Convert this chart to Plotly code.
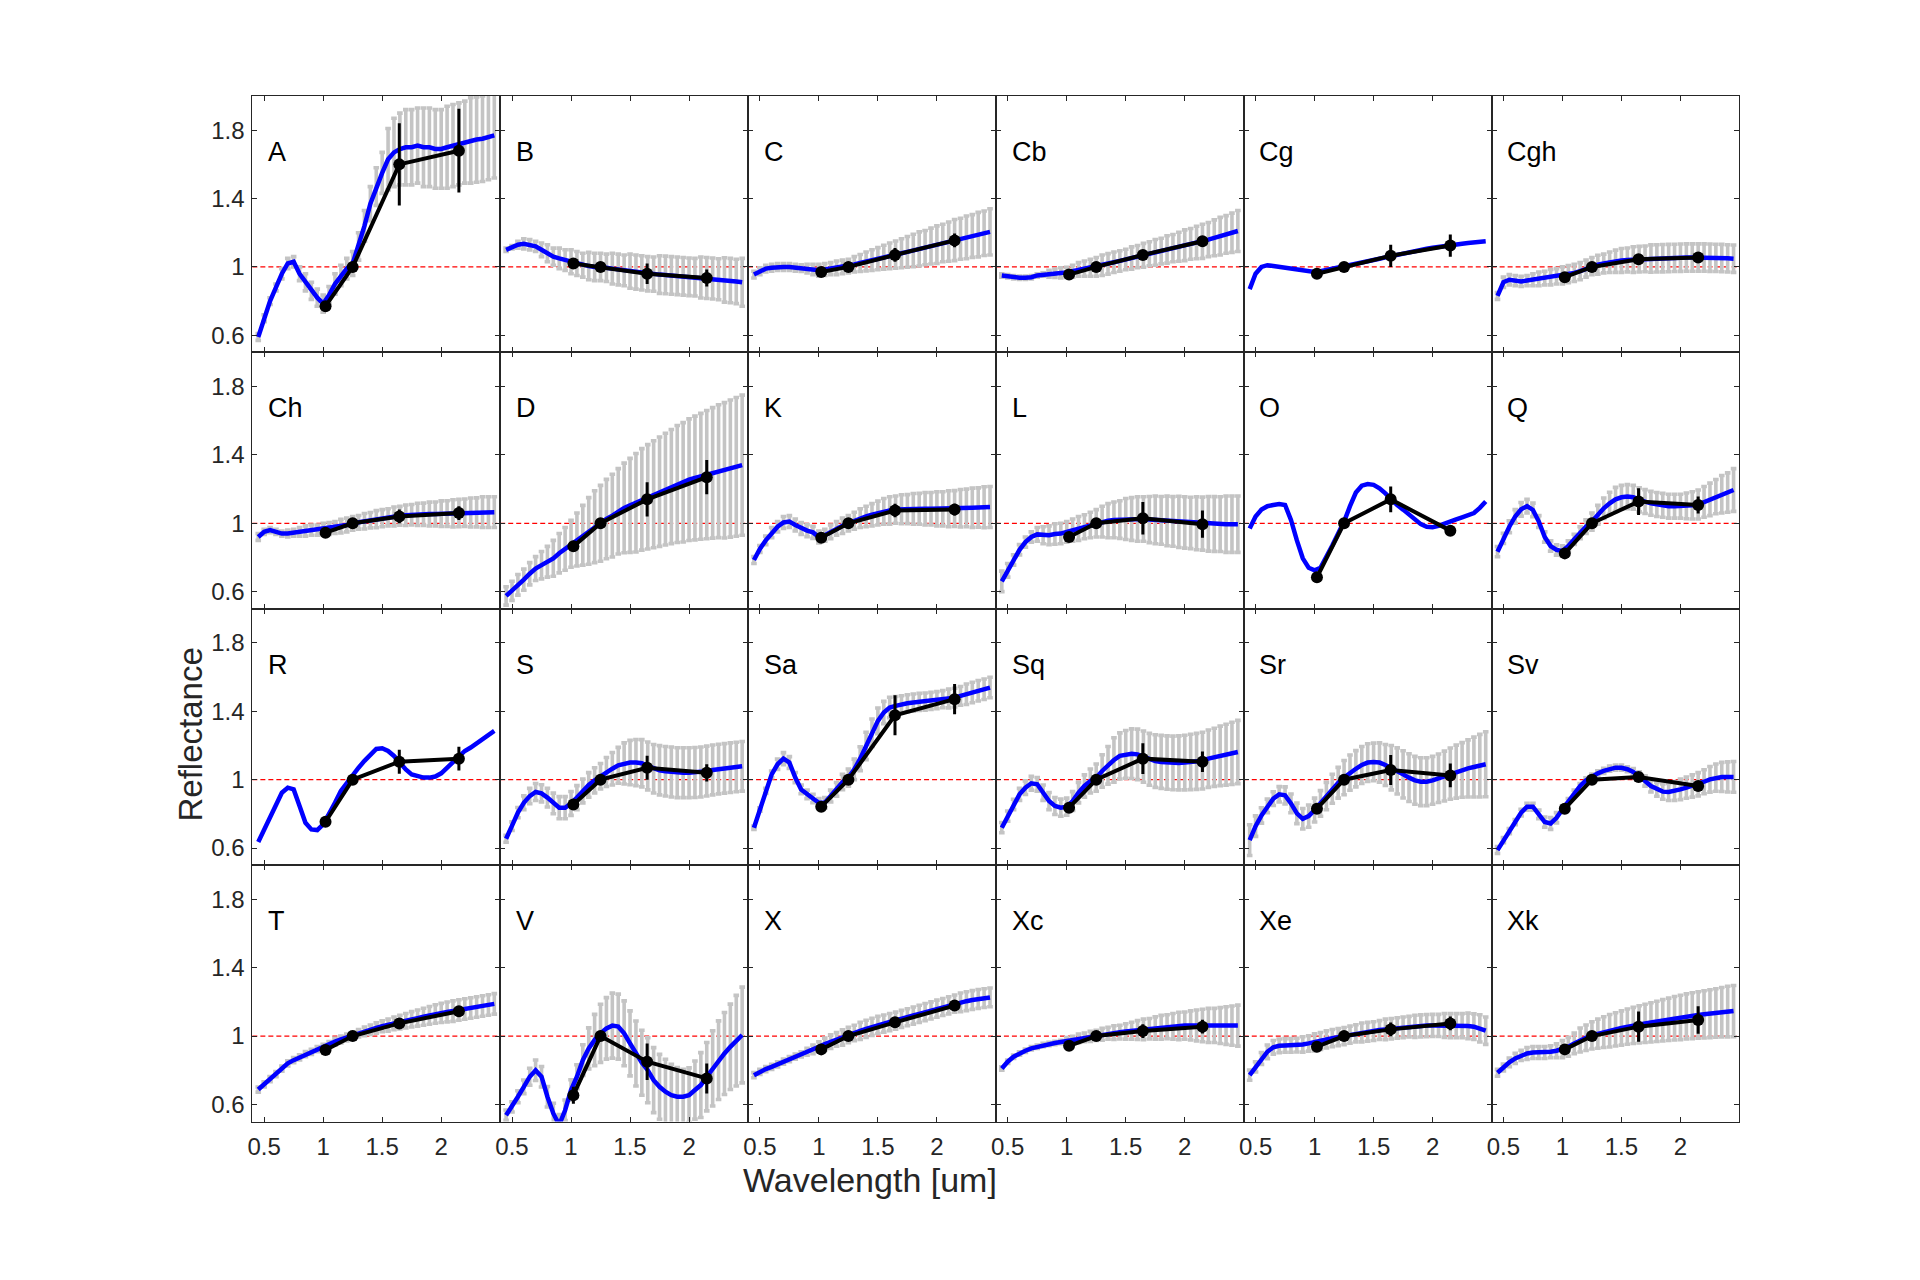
import plotly.graph_objects as go

# ---------------- data ----------------
WAVE = [0.45, 0.50, 0.55, 0.60, 0.65, 0.70, 0.75, 0.80, 0.85, 0.90, 0.95, 1.00, 1.05, 1.10,
        1.15, 1.20, 1.25, 1.30, 1.35, 1.40, 1.45, 1.50, 1.55, 1.60, 1.65, 1.70, 1.75, 1.80,
        1.85, 1.90, 1.95, 2.00, 2.05, 2.10, 2.15, 2.20, 2.25, 2.30, 2.35, 2.40, 2.45]
PHOT_WAVE = [1.02, 1.25, 1.645, 2.15]

CLASSES = ["A", "B", "C", "Cb", "Cg", "Cgh",
           "Ch", "D", "K", "L", "O", "Q",
           "R", "S", "Sa", "Sq", "Sr", "Sv",
           "T", "V", "X", "Xc", "Xe", "Xk"]

A_MEAN = [0.59, 0.70, 0.80, 0.88, 0.96, 1.02, 1.03, 0.96, 0.91, 0.86, 0.82, 0.785, 0.835, 0.90, 0.95, 0.99, 1.02, 1.12, 1.24, 1.37, 1.47, 1.55, 1.63, 1.67, 1.69, 1.70, 1.70, 1.71, 1.70, 1.70, 1.69, 1.69, 1.70, 1.71, 1.72, 1.73, 1.74, 1.745, 1.75, 1.76, 1.77]
A_STD = [0.02, 0.02, 0.02, 0.02, 0.03, 0.03, 0.03, 0.04, 0.05, 0.05, 0.05, 0.05, 0.05, 0.06, 0.06, 0.06, 0.07, 0.08, 0.09, 0.10, 0.11, 0.12, 0.18, 0.20, 0.21, 0.22, 0.22, 0.22, 0.23, 0.23, 0.23, 0.23, 0.24, 0.24, 0.24, 0.24, 0.25, 0.25, 0.25, 0.25, 0.25]
A_PHOT = [0.77, 1.0, 1.60, 1.68]
A_PHOT_ERR = [0.02, 0.0, 0.24, 0.245]

B_MEAN = [1.10, 1.115, 1.13, 1.135, 1.13, 1.12, 1.10, 1.08, 1.06, 1.05, 1.04, 1.03, 1.02, 1.01, 1.005, 1.0, 1.0, 0.995, 0.99, 0.985, 0.98, 0.975, 0.97, 0.965, 0.96, 0.958, 0.955, 0.953, 0.95, 0.948, 0.945, 0.942, 0.94, 0.938, 0.935, 0.932, 0.928, 0.924, 0.92, 0.915, 0.91]
B_STD = [0.01, 0.01, 0.02, 0.03, 0.03, 0.03, 0.04, 0.05, 0.05, 0.06, 0.06, 0.07, 0.07, 0.07, 0.08, 0.08, 0.08, 0.08, 0.09, 0.09, 0.09, 0.10, 0.10, 0.10, 0.10, 0.10, 0.11, 0.11, 0.11, 0.11, 0.11, 0.11, 0.11, 0.12, 0.12, 0.12, 0.12, 0.13, 0.13, 0.13, 0.14]
B_PHOT = [1.02, 1.0, 0.96, 0.935]
B_PHOT_ERR = [0.02, 0.0, 0.06, 0.05]

C_MEAN = [0.955, 0.975, 0.99, 0.995, 1.0, 1.0, 1.0, 0.995, 0.993, 0.99, 0.985, 0.98, 0.985, 0.99, 0.995, 1.0, 1.005, 1.015, 1.023, 1.032, 1.04, 1.048, 1.057, 1.065, 1.072, 1.08, 1.088, 1.096, 1.105, 1.113, 1.122, 1.13, 1.14, 1.148, 1.157, 1.165, 1.173, 1.181, 1.189, 1.197, 1.205]
C_STD = [0.02, 0.02, 0.02, 0.02, 0.02, 0.02, 0.02, 0.02, 0.02, 0.025, 0.03, 0.035, 0.035, 0.035, 0.04, 0.04, 0.04, 0.045, 0.05, 0.055, 0.06, 0.065, 0.07, 0.075, 0.08, 0.085, 0.09, 0.095, 0.1, 0.1, 0.105, 0.11, 0.11, 0.115, 0.12, 0.12, 0.125, 0.125, 0.13, 0.13, 0.135]
C_PHOT = [0.97, 1.0, 1.07, 1.155]
C_PHOT_ERR = [0.02, 0.0, 0.04, 0.04]

Cb_MEAN = [0.95, 0.945, 0.94, 0.937, 0.937, 0.94, 0.95, 0.955, 0.96, 0.963, 0.965, 0.968, 0.975, 0.985, 0.99, 0.995, 1.0, 1.01, 1.018, 1.027, 1.035, 1.043, 1.052, 1.06, 1.068, 1.077, 1.085, 1.093, 1.102, 1.11, 1.118, 1.127, 1.135, 1.143, 1.15, 1.16, 1.17, 1.18, 1.19, 1.2, 1.21]
Cb_STD = [0.01, 0.01, 0.01, 0.01, 0.01, 0.01, 0.01, 0.01, 0.02, 0.025, 0.03, 0.03, 0.035, 0.04, 0.045, 0.05, 0.055, 0.06, 0.06, 0.06, 0.06, 0.06, 0.065, 0.065, 0.07, 0.07, 0.075, 0.075, 0.08, 0.08, 0.085, 0.09, 0.09, 0.095, 0.1, 0.1, 0.105, 0.11, 0.11, 0.115, 0.12]
Cb_PHOT = [0.955, 1.0, 1.07, 1.15]
Cb_PHOT_ERR = [0.02, 0.0, 0.02, 0.02]

Cg_MEAN = [0.87, 0.96, 1.0, 1.01, 1.005, 1.0, 0.995, 0.99, 0.985, 0.98, 0.975, 0.97, 0.975, 0.982, 0.99, 0.995, 1.0, 1.008, 1.016, 1.024, 1.032, 1.04, 1.048, 1.056, 1.064, 1.071, 1.078, 1.085, 1.092, 1.099, 1.106, 1.112, 1.118, 1.123, 1.127, 1.132, 1.136, 1.14, 1.144, 1.147, 1.15]
Cg_STD = [0.0] * 41
Cg_PHOT = [0.96, 1.0, 1.065, 1.125]
Cg_PHOT_ERR = [0.02, 0.0, 0.065, 0.065]

Cgh_MEAN = [0.83, 0.91, 0.925, 0.92, 0.915, 0.92, 0.925, 0.93, 0.935, 0.94, 0.945, 0.95, 0.958, 0.965, 0.975, 0.99, 1.005, 1.013, 1.02, 1.027, 1.033, 1.038, 1.041, 1.043, 1.045, 1.047, 1.049, 1.05, 1.051, 1.052, 1.053, 1.054, 1.055, 1.055, 1.055, 1.055, 1.054, 1.053, 1.052, 1.05, 1.048]
Cgh_STD = [0.02, 0.03, 0.03, 0.03, 0.03, 0.03, 0.035, 0.04, 0.04, 0.045, 0.045, 0.05, 0.05, 0.05, 0.05, 0.05, 0.05, 0.055, 0.055, 0.06, 0.065, 0.07, 0.07, 0.075, 0.075, 0.075, 0.08, 0.08, 0.08, 0.08, 0.08, 0.08, 0.08, 0.08, 0.08, 0.08, 0.08, 0.08, 0.08, 0.08, 0.08]
Cgh_PHOT = [0.94, 1.0, 1.045, 1.055]
Cgh_PHOT_ERR = [0.02, 0.0, 0.03, 0.03]

Ch_MEAN = [0.92, 0.95, 0.96, 0.95, 0.94, 0.94, 0.945, 0.95, 0.955, 0.96, 0.96, 0.965, 0.97, 0.975, 0.983, 0.99, 1.0, 1.006, 1.012, 1.018, 1.024, 1.03, 1.035, 1.04, 1.044, 1.047, 1.05, 1.052, 1.053, 1.054, 1.055, 1.056, 1.057, 1.058, 1.06, 1.062, 1.063, 1.064, 1.065, 1.065, 1.065]
Ch_STD = [0.02, 0.015, 0.015, 0.015, 0.015, 0.02, 0.02, 0.025, 0.03, 0.03, 0.03, 0.035, 0.035, 0.035, 0.04, 0.04, 0.04, 0.04, 0.045, 0.045, 0.05, 0.05, 0.05, 0.055, 0.055, 0.06, 0.06, 0.065, 0.065, 0.07, 0.07, 0.075, 0.075, 0.08, 0.08, 0.08, 0.085, 0.085, 0.09, 0.09, 0.09]
Ch_PHOT = [0.945, 1.0, 1.04, 1.06]
Ch_PHOT_ERR = [0.02, 0.0, 0.04, 0.04]

D_MEAN = [0.575, 0.605, 0.64, 0.67, 0.705, 0.735, 0.755, 0.775, 0.795, 0.825, 0.85, 0.88, 0.905, 0.93, 0.955, 0.98, 1.0, 1.025, 1.045, 1.07, 1.09, 1.105, 1.12, 1.14, 1.155, 1.17, 1.185, 1.2, 1.215, 1.23, 1.24, 1.255, 1.265, 1.275, 1.285, 1.295, 1.305, 1.31, 1.32, 1.33, 1.34]
D_STD = [0.054, 0.056, 0.06, 0.062, 0.065, 0.07, 0.08, 0.09, 0.105, 0.115, 0.125, 0.137, 0.155, 0.175, 0.195, 0.21, 0.222, 0.232, 0.242, 0.25, 0.262, 0.275, 0.288, 0.297, 0.305, 0.313, 0.32, 0.327, 0.334, 0.342, 0.349, 0.356, 0.362, 0.368, 0.375, 0.382, 0.389, 0.396, 0.401, 0.406, 0.41]
D_PHOT = [0.865, 1.0, 1.14, 1.27]
D_PHOT_ERR = [0.02, 0.0, 0.1, 0.1]

K_MEAN = [0.785, 0.85, 0.9, 0.945, 0.98, 1.005, 1.01, 0.99, 0.97, 0.957, 0.947, 0.92, 0.93, 0.95, 0.97, 0.985, 1.0, 1.015, 1.03, 1.04, 1.05, 1.06, 1.07, 1.075, 1.08, 1.082, 1.083, 1.084, 1.085, 1.085, 1.085, 1.085, 1.085, 1.085, 1.086, 1.088, 1.09, 1.091, 1.092, 1.094, 1.095]
K_STD = [0.02, 0.02, 0.025, 0.03, 0.03, 0.035, 0.035, 0.035, 0.035, 0.035, 0.035, 0.035, 0.035, 0.04, 0.04, 0.045, 0.045, 0.05, 0.055, 0.06, 0.065, 0.07, 0.075, 0.08, 0.08, 0.085, 0.085, 0.09, 0.09, 0.095, 0.095, 0.1, 0.1, 0.105, 0.105, 0.11, 0.11, 0.115, 0.115, 0.12, 0.12]
K_PHOT = [0.915, 1.0, 1.075, 1.08]
K_PHOT_ERR = [0.02, 0.0, 0.04, 0.035]

L_MEAN = [0.66, 0.725, 0.785, 0.845, 0.89, 0.92, 0.935, 0.93, 0.93, 0.937, 0.94, 0.95, 0.96, 0.97, 0.98, 0.99, 1.0, 1.01, 1.015, 1.02, 1.022, 1.025, 1.025, 1.025, 1.025, 1.022, 1.02, 1.017, 1.014, 1.011, 1.008, 1.005, 1.002, 1.0, 0.998, 0.997, 0.996, 0.995, 0.995, 0.995, 0.995]
L_STD = [0.06, 0.04, 0.03, 0.03, 0.03, 0.03, 0.04, 0.05, 0.055, 0.06, 0.06, 0.06, 0.065, 0.07, 0.07, 0.075, 0.08, 0.09, 0.1, 0.105, 0.11, 0.12, 0.125, 0.13, 0.13, 0.135, 0.14, 0.14, 0.145, 0.145, 0.15, 0.15, 0.15, 0.155, 0.155, 0.16, 0.16, 0.16, 0.165, 0.165, 0.165]
L_PHOT = [0.92, 1.0, 1.03, 0.995]
L_PHOT_ERR = [0.02, 0.0, 0.095, 0.08]

O_MEAN = [0.97, 1.04, 1.08, 1.1, 1.107, 1.113, 1.107, 1.02, 0.90, 0.795, 0.74, 0.725, 0.74, 0.80, 0.87, 0.94, 1.01, 1.10, 1.18, 1.22, 1.23, 1.225, 1.205, 1.175, 1.14, 1.107, 1.08, 1.05, 1.02, 0.995, 0.98, 0.977, 0.985, 1.0, 1.01, 1.023, 1.035, 1.045, 1.06, 1.09, 1.127]
O_STD = [0.0] * 41
O_PHOT = [0.684, 1.0, 1.14, 0.957]
O_PHOT_ERR = [0.015, 0.0, 0.075, 0.03]

Q_MEAN = [0.834, 0.912, 0.98, 1.04, 1.082, 1.1, 1.078, 1.01, 0.92, 0.867, 0.844, 0.838, 0.867, 0.906, 0.945, 0.98, 1.01, 1.05, 1.088, 1.117, 1.14, 1.152, 1.156, 1.152, 1.137, 1.127, 1.117, 1.11, 1.105, 1.1, 1.1, 1.1, 1.102, 1.105, 1.11, 1.125, 1.14, 1.156, 1.17, 1.18, 1.195]
Q_STD = [0.03, 0.03, 0.035, 0.04, 0.04, 0.04, 0.04, 0.035, 0.03, 0.03, 0.03, 0.03, 0.03, 0.03, 0.035, 0.04, 0.05, 0.055, 0.06, 0.065, 0.07, 0.07, 0.07, 0.07, 0.07, 0.07, 0.07, 0.07, 0.07, 0.07, 0.07, 0.07, 0.075, 0.08, 0.085, 0.09, 0.095, 0.1, 0.11, 0.115, 0.125]
Q_PHOT = [0.824, 1.0, 1.127, 1.107]
Q_PHOT_ERR = [0.02, 0.0, 0.078, 0.05]

R_MEAN = [0.635, 0.71, 0.787, 0.86, 0.924, 0.953, 0.943, 0.846, 0.748, 0.709, 0.705, 0.738, 0.797, 0.865, 0.934, 0.982, 1.02, 1.07, 1.11, 1.15, 1.18, 1.184, 1.168, 1.139, 1.1, 1.06, 1.031, 1.018, 1.012, 1.012, 1.018, 1.037, 1.07, 1.104, 1.139, 1.168, 1.188, 1.213, 1.236, 1.26, 1.285]
R_STD = [0.0] * 41
R_PHOT = [0.754, 1.0, 1.105, 1.123]
R_PHOT_ERR = [0.02, 0.0, 0.07, 0.07]

S_MEAN = [0.654, 0.728, 0.807, 0.865, 0.904, 0.928, 0.92, 0.895, 0.861, 0.836, 0.836, 0.861, 0.895, 0.934, 0.969, 0.996, 1.02, 1.045, 1.064, 1.084, 1.095, 1.1, 1.1, 1.096, 1.08, 1.064, 1.055, 1.049, 1.045, 1.041, 1.041, 1.041, 1.042, 1.045, 1.05, 1.057, 1.062, 1.066, 1.07, 1.074, 1.078]
S_STD = [0.02, 0.025, 0.03, 0.04, 0.045, 0.05, 0.05, 0.055, 0.06, 0.065, 0.065, 0.07, 0.07, 0.07, 0.072, 0.074, 0.075, 0.085, 0.095, 0.105, 0.12, 0.13, 0.135, 0.138, 0.14, 0.142, 0.144, 0.145, 0.146, 0.146, 0.146, 0.146, 0.146, 0.146, 0.146, 0.146, 0.145, 0.145, 0.145, 0.145, 0.145]
S_PHOT = [0.855, 1.0, 1.07, 1.04]
S_PHOT_ERR = [0.02, 0.0, 0.07, 0.05]

Sa_MEAN = [0.719, 0.826, 0.934, 1.031, 1.09, 1.123, 1.1, 1.012, 0.943, 0.914, 0.89, 0.865, 0.865, 0.904, 0.943, 0.986, 1.012, 1.06, 1.123, 1.197, 1.275, 1.344, 1.393, 1.422, 1.432, 1.441, 1.447, 1.451, 1.455, 1.457, 1.461, 1.465, 1.471, 1.475, 1.48, 1.49, 1.5, 1.51, 1.52, 1.529, 1.539]
Sa_STD = [0.01, 0.01, 0.015, 0.02, 0.03, 0.035, 0.035, 0.03, 0.025, 0.025, 0.025, 0.025, 0.03, 0.035, 0.04, 0.045, 0.05, 0.06, 0.07, 0.08, 0.08, 0.075, 0.065, 0.06, 0.055, 0.05, 0.05, 0.05, 0.05, 0.05, 0.05, 0.05, 0.05, 0.055, 0.055, 0.055, 0.06, 0.06, 0.06, 0.06, 0.06]
Sa_PHOT = [0.842, 1.0, 1.377, 1.471]
Sa_PHOT_ERR = [0.02, 0.0, 0.117, 0.088]

Sq_MEAN = [0.719, 0.787, 0.855, 0.914, 0.953, 0.979, 0.973, 0.924, 0.875, 0.846, 0.836, 0.842, 0.875, 0.924, 0.963, 0.992, 1.012, 1.051, 1.084, 1.115, 1.139, 1.148, 1.152, 1.148, 1.135, 1.119, 1.109, 1.104, 1.1, 1.098, 1.098, 1.1, 1.104, 1.107, 1.111, 1.123, 1.131, 1.139, 1.146, 1.154, 1.162]
Sq_STD = [0.03, 0.03, 0.03, 0.035, 0.04, 0.04, 0.04, 0.045, 0.05, 0.05, 0.05, 0.05, 0.055, 0.06, 0.065, 0.07, 0.08, 0.095, 0.11, 0.13, 0.135, 0.14, 0.145, 0.148, 0.15, 0.152, 0.154, 0.155, 0.156, 0.157, 0.158, 0.16, 0.162, 0.164, 0.166, 0.168, 0.17, 0.174, 0.178, 0.182, 0.185]
Sq_PHOT = [0.836, 1.0, 1.123, 1.105]
Sq_PHOT_ERR = [0.02, 0.0, 0.09, 0.06]

Sr_MEAN = [0.646, 0.728, 0.791, 0.846, 0.889, 0.914, 0.908, 0.861, 0.803, 0.771, 0.787, 0.822, 0.861, 0.904, 0.947, 0.982, 1.012, 1.041, 1.064, 1.086, 1.1, 1.104, 1.1, 1.086, 1.07, 1.051, 1.031, 1.012, 0.996, 0.988, 0.988, 0.996, 1.008, 1.021, 1.035, 1.047, 1.057, 1.066, 1.074, 1.082, 1.09]
Sr_STD = [0.09, 0.06, 0.045, 0.04, 0.04, 0.045, 0.05, 0.055, 0.06, 0.06, 0.065, 0.07, 0.075, 0.08, 0.085, 0.09, 0.1, 0.103, 0.106, 0.108, 0.11, 0.11, 0.115, 0.12, 0.13, 0.135, 0.138, 0.14, 0.14, 0.14, 0.14, 0.14, 0.142, 0.146, 0.15, 0.155, 0.16, 0.167, 0.175, 0.183, 0.19]
Sr_PHOT = [0.83, 1.0, 1.057, 1.025]
Sr_PHOT_ERR = [0.02, 0.0, 0.088, 0.07]

Sv_MEAN = [0.588, 0.646, 0.699, 0.752, 0.807, 0.842, 0.842, 0.797, 0.752, 0.744, 0.777, 0.826, 0.875, 0.924, 0.963, 0.996, 1.018, 1.037, 1.051, 1.064, 1.07, 1.07, 1.061, 1.045, 1.021, 0.992, 0.963, 0.943, 0.93, 0.928, 0.934, 0.943, 0.953, 0.963, 0.973, 0.988, 1.002, 1.012, 1.016, 1.016, 1.016]
Sv_STD = [0.02, 0.015, 0.015, 0.015, 0.02, 0.02, 0.02, 0.025, 0.03, 0.035, 0.03, 0.02, 0.015, 0.015, 0.015, 0.015, 0.015, 0.015, 0.015, 0.015, 0.015, 0.015, 0.015, 0.02, 0.025, 0.03, 0.035, 0.04, 0.045, 0.05, 0.055, 0.06, 0.062, 0.065, 0.068, 0.07, 0.075, 0.08, 0.085, 0.088, 0.09]
Sv_PHOT = [0.83, 1.0, 1.016, 0.963]
Sv_PHOT_ERR = [0.015, 0.0, 0.015, 0.015]

T_MEAN = [0.687, 0.717, 0.748, 0.777, 0.81, 0.84, 0.859, 0.875, 0.894, 0.908, 0.924, 0.937, 0.953, 0.967, 0.98, 0.992, 1.004, 1.016, 1.027, 1.037, 1.047, 1.057, 1.064, 1.074, 1.082, 1.09, 1.098, 1.105, 1.113, 1.121, 1.129, 1.135, 1.141, 1.146, 1.152, 1.158, 1.164, 1.17, 1.176, 1.182, 1.188]
T_STD = [0.015, 0.015, 0.015, 0.015, 0.015, 0.015, 0.015, 0.015, 0.015, 0.015, 0.015, 0.015, 0.015, 0.02, 0.02, 0.02, 0.02, 0.022, 0.025, 0.028, 0.03, 0.032, 0.035, 0.037, 0.04, 0.042, 0.045, 0.047, 0.05, 0.052, 0.054, 0.056, 0.058, 0.06, 0.06, 0.06, 0.06, 0.06, 0.06, 0.06, 0.06]
T_PHOT = [0.918, 1.0, 1.074, 1.145]
T_PHOT_ERR = [0.02, 0.0, 0.02, 0.02]

V_MEAN = [0.537, 0.586, 0.645, 0.703, 0.762, 0.8, 0.762, 0.645, 0.547, 0.48, 0.566, 0.684, 0.762, 0.859, 0.928, 0.977, 1.016, 1.045, 1.061, 1.055, 1.016, 0.957, 0.898, 0.844, 0.8, 0.742, 0.703, 0.674, 0.654, 0.645, 0.645, 0.654, 0.684, 0.713, 0.762, 0.811, 0.859, 0.898, 0.937, 0.973, 1.006]
V_STD = [0.03, 0.03, 0.035, 0.04, 0.05, 0.06, 0.06, 0.06, 0.06, 0.06, 0.06, 0.06, 0.07, 0.09, 0.12, 0.15, 0.17, 0.18, 0.19, 0.19, 0.19, 0.19, 0.19, 0.19, 0.19, 0.19, 0.19, 0.19, 0.18, 0.17, 0.16, 0.16, 0.17, 0.19, 0.2, 0.22, 0.23, 0.24, 0.25, 0.265, 0.28]
V_PHOT = [0.654, 1.0, 0.85, 0.752]
V_PHOT_ERR = [0.05, 0.0, 0.107, 0.088]

X_MEAN = [0.771, 0.791, 0.807, 0.82, 0.834, 0.85, 0.865, 0.879, 0.893, 0.908, 0.922, 0.937, 0.953, 0.967, 0.98, 0.992, 1.006, 1.018, 1.03, 1.042, 1.054, 1.065, 1.073, 1.082, 1.09, 1.1, 1.11, 1.12, 1.13, 1.14, 1.15, 1.16, 1.17, 1.18, 1.19, 1.197, 1.204, 1.211, 1.217, 1.222, 1.226]
X_STD = [0.015, 0.015, 0.015, 0.015, 0.015, 0.015, 0.015, 0.015, 0.015, 0.02, 0.025, 0.03, 0.035, 0.04, 0.04, 0.045, 0.045, 0.045, 0.05, 0.05, 0.05, 0.05, 0.05, 0.05, 0.05, 0.05, 0.05, 0.05, 0.05, 0.05, 0.05, 0.05, 0.05, 0.05, 0.05, 0.055, 0.055, 0.055, 0.055, 0.055, 0.055]
X_PHOT = [0.922, 1.0, 1.08, 1.178]
X_PHOT_ERR = [0.02, 0.0, 0.03, 0.03]

Xc_MEAN = [0.81, 0.85, 0.879, 0.898, 0.914, 0.928, 0.937, 0.947, 0.953, 0.959, 0.965, 0.971, 0.979, 0.986, 0.992, 0.998, 1.004, 1.01, 1.016, 1.02, 1.023, 1.027, 1.031, 1.035, 1.039, 1.043, 1.047, 1.051, 1.055, 1.057, 1.059, 1.061, 1.062, 1.062, 1.062, 1.062, 1.062, 1.061, 1.061, 1.061, 1.061]
Xc_STD = [0.01, 0.01, 0.01, 0.01, 0.01, 0.01, 0.01, 0.01, 0.01, 0.01, 0.01, 0.02, 0.02, 0.025, 0.025, 0.03, 0.03, 0.035, 0.035, 0.04, 0.04, 0.045, 0.05, 0.055, 0.06, 0.06, 0.065, 0.07, 0.07, 0.075, 0.08, 0.08, 0.085, 0.09, 0.095, 0.1, 0.1, 0.105, 0.11, 0.115, 0.12]
Xc_PHOT = [0.943, 1.0, 1.029, 1.055]
Xc_PHOT_ERR = [0.02, 0.0, 0.04, 0.04]

Xe_MEAN = [0.771, 0.82, 0.869, 0.908, 0.934, 0.943, 0.945, 0.945, 0.947, 0.951, 0.957, 0.963, 0.971, 0.98, 0.988, 0.994, 1.0, 1.008, 1.016, 1.021, 1.025, 1.029, 1.035, 1.039, 1.043, 1.047, 1.051, 1.055, 1.057, 1.059, 1.061, 1.062, 1.062, 1.062, 1.061, 1.061, 1.061, 1.059, 1.055, 1.045, 1.031]
Xe_STD = [0.03, 0.03, 0.035, 0.04, 0.04, 0.04, 0.04, 0.04, 0.04, 0.045, 0.045, 0.05, 0.05, 0.05, 0.05, 0.05, 0.05, 0.05, 0.05, 0.055, 0.055, 0.055, 0.055, 0.06, 0.06, 0.06, 0.06, 0.06, 0.065, 0.065, 0.065, 0.065, 0.065, 0.07, 0.07, 0.07, 0.07, 0.075, 0.075, 0.08, 0.08]
Xe_PHOT = [0.938, 1.0, 1.039, 1.074]
Xe_PHOT_ERR = [0.02, 0.0, 0.04, 0.04]

Xk_MEAN = [0.785, 0.816, 0.846, 0.869, 0.887, 0.898, 0.904, 0.904, 0.904, 0.908, 0.914, 0.924, 0.937, 0.957, 0.977, 0.99, 1.004, 1.014, 1.023, 1.031, 1.039, 1.047, 1.055, 1.062, 1.068, 1.074, 1.08, 1.086, 1.092, 1.098, 1.104, 1.109, 1.115, 1.119, 1.123, 1.127, 1.131, 1.135, 1.139, 1.143, 1.146]
Xk_STD = [0.02, 0.02, 0.025, 0.03, 0.03, 0.035, 0.035, 0.035, 0.035, 0.035, 0.04, 0.05, 0.055, 0.06, 0.07, 0.075, 0.08, 0.085, 0.09, 0.095, 0.097, 0.1, 0.103, 0.106, 0.109, 0.112, 0.115, 0.118, 0.121, 0.124, 0.127, 0.13, 0.132, 0.134, 0.136, 0.138, 0.14, 0.142, 0.145, 0.148, 0.15]
Xk_PHOT = [0.922, 1.0, 1.055, 1.094]
Xk_PHOT_ERR = [0.02, 0.0, 0.088, 0.08]

X_TICKS = [0.5, 1, 1.5, 2]
Y_TICKS = [0.6, 1, 1.4, 1.8]
X_RANGE = [0.4, 2.5]
Y_RANGE = [0.5, 2.0]

PANELS = {
    "A": (A_MEAN, A_STD, A_PHOT, A_PHOT_ERR), "B": (B_MEAN, B_STD, B_PHOT, B_PHOT_ERR),
    "C": (C_MEAN, C_STD, C_PHOT, C_PHOT_ERR), "Cb": (Cb_MEAN, Cb_STD, Cb_PHOT, Cb_PHOT_ERR),
    "Cg": (Cg_MEAN, Cg_STD, Cg_PHOT, Cg_PHOT_ERR), "Cgh": (Cgh_MEAN, Cgh_STD, Cgh_PHOT, Cgh_PHOT_ERR),
    "Ch": (Ch_MEAN, Ch_STD, Ch_PHOT, Ch_PHOT_ERR), "D": (D_MEAN, D_STD, D_PHOT, D_PHOT_ERR),
    "K": (K_MEAN, K_STD, K_PHOT, K_PHOT_ERR), "L": (L_MEAN, L_STD, L_PHOT, L_PHOT_ERR),
    "O": (O_MEAN, O_STD, O_PHOT, O_PHOT_ERR), "Q": (Q_MEAN, Q_STD, Q_PHOT, Q_PHOT_ERR),
    "R": (R_MEAN, R_STD, R_PHOT, R_PHOT_ERR), "S": (S_MEAN, S_STD, S_PHOT, S_PHOT_ERR),
    "Sa": (Sa_MEAN, Sa_STD, Sa_PHOT, Sa_PHOT_ERR), "Sq": (Sq_MEAN, Sq_STD, Sq_PHOT, Sq_PHOT_ERR),
    "Sr": (Sr_MEAN, Sr_STD, Sr_PHOT, Sr_PHOT_ERR), "Sv": (Sv_MEAN, Sv_STD, Sv_PHOT, Sv_PHOT_ERR),
    "T": (T_MEAN, T_STD, T_PHOT, T_PHOT_ERR), "V": (V_MEAN, V_STD, V_PHOT, V_PHOT_ERR),
    "X": (X_MEAN, X_STD, X_PHOT, X_PHOT_ERR), "Xc": (Xc_MEAN, Xc_STD, Xc_PHOT, Xc_PHOT_ERR),
    "Xe": (Xe_MEAN, Xe_STD, Xe_PHOT, Xe_PHOT_ERR), "Xk": (Xk_MEAN, Xk_STD, Xk_PHOT, Xk_PHOT_ERR),
}

# ---------------- layout geometry (pixels) ----------------
W, H = 1920, 1280
GRID_L, GRID_R = 248.0, 1739.0
GRID_T, GRID_B = 96.0, 1121.5
NROWS, NCOLS = 4, 6
PW = (GRID_R - GRID_L) / NCOLS
PH = (GRID_B - GRID_T) / NROWS

FONT = "Liberation Sans, Arial, Helvetica, sans-serif"
AXCOL = "#262626"
GREY = "#c4c4c4"

fig = go.Figure()
layout = dict(
    width=W, height=H, margin=dict(l=0, r=0, t=0, b=0),
    paper_bgcolor="white", plot_bgcolor="white", showlegend=False,
    font=dict(family=FONT, color=AXCOL, size=24),
)
annotations = []
shapes = []

for i, name in enumerate(CLASSES):
    r, c = divmod(i, NCOLS)
    n = i + 1
    xs = "" if n == 1 else str(n)
    xref, yref = "x" + xs, "y" + xs
    mean, std, phot, perr = PANELS[name]

    x0 = (GRID_L + c * PW) / W
    x1 = (GRID_L + (c + 1) * PW) / W
    ytop = 1 - (GRID_T + r * PH) / H
    ybot = 1 - (GRID_T + (r + 1) * PH) / H

    layout["xaxis" + xs] = dict(
        domain=[x0, x1], anchor=yref, range=X_RANGE, tickvals=X_TICKS,
        showticklabels=(r == NROWS - 1), ticks="inside", ticklen=5, tickwidth=1,
        tickcolor=AXCOL, showline=True, linecolor=AXCOL, linewidth=1, mirror="ticks",
        showgrid=False, zeroline=False, fixedrange=True,
        tickfont=dict(family=FONT, size=24, color=AXCOL), ticklabelstandoff=4,
    )
    layout["yaxis" + xs] = dict(
        domain=[ybot, ytop], anchor=xref, range=Y_RANGE, tickvals=Y_TICKS,
        showticklabels=(c == 0), ticks="inside", ticklen=5, tickwidth=1,
        tickcolor=AXCOL, showline=True, linecolor=AXCOL, linewidth=1, mirror="ticks",
        showgrid=False, zeroline=False, fixedrange=True,
        tickfont=dict(family=FONT, size=24, color=AXCOL), ticklabelstandoff=2,
    )

    # red dashed reference at reflectance 1
    shapes.append(dict(type="line", xref=xref + " domain", x0=0, x1=1, yref=yref, y0=1, y1=1,
                       line=dict(color="#ff0000", width=1.2, dash="5px,3px"), layer="below"))

    # grey std bars
    if any(s > 0 for s in std):
        fig.add_trace(go.Scatter(
            x=WAVE, y=mean, mode="markers", xaxis=xref, yaxis=yref,
            marker=dict(size=2, color="rgba(0,0,0,0)"),
            error_y=dict(type="data", array=std, visible=True, color=GREY, thickness=3.6, width=2.8),
            hoverinfo="skip"))
    # blue mean spectrum
    fig.add_trace(go.Scatter(x=WAVE, y=mean, mode="lines", xaxis=xref, yaxis=yref,
                             line=dict(color="#0000ff", width=4.5)))
    # black photometry
    fig.add_trace(go.Scatter(
        x=PHOT_WAVE, y=phot, mode="lines+markers", xaxis=xref, yaxis=yref,
        line=dict(color="black", width=4), marker=dict(size=12, color="black"),
        error_y=dict(type="data", array=perr, visible=True, color="black", thickness=3, width=0)))

    annotations.append(dict(text=name, xref=xref + " domain", yref=yref + " domain",
                            x=0.055, y=0.782, xanchor="left", yanchor="middle", showarrow=False,
                            font=dict(family=FONT, size=27, color="black")))

annotations.append(dict(text="Wavelength [um]", xref="paper", yref="paper",
                        x=867 / W, y=1 - 1180 / H, xanchor="center", yanchor="middle",
                        showarrow=False, font=dict(family=FONT, size=34, color=AXCOL)))
annotations.append(dict(text="Reflectance", xref="paper", yref="paper",
                        x=185 / W, y=1 - 735 / H, xanchor="center", yanchor="middle",
                        textangle=-90, showarrow=False, font=dict(family=FONT, size=33, color=AXCOL)))

layout["annotations"] = annotations
layout["shapes"] = shapes
fig.update_layout(**layout)

fig.write_html("out.html", config={"displayModeBar": False},
               post_script="document.body.style.margin='0px';document.body.style.overflow='hidden';")
